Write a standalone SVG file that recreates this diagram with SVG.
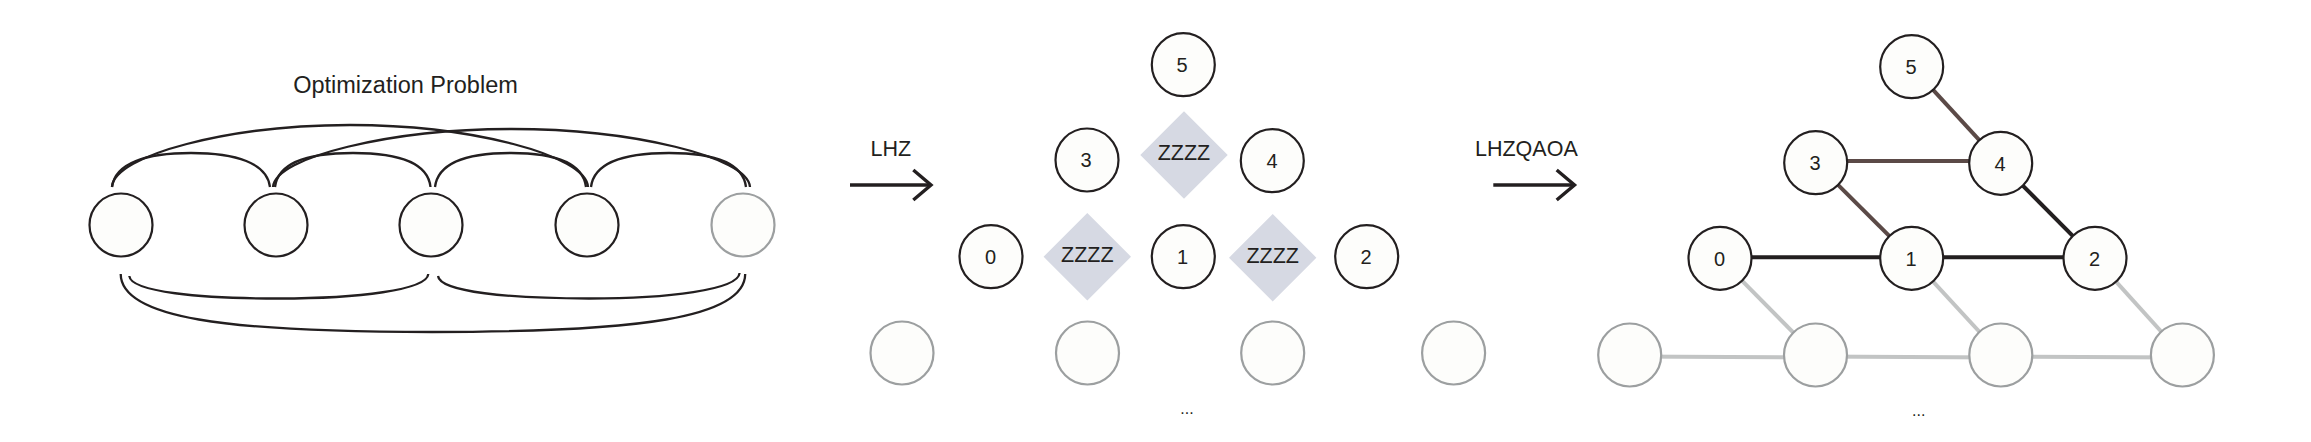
<svg xmlns="http://www.w3.org/2000/svg" width="2311" height="442" viewBox="0 0 2311 442">
<style>
  text { font-family: "Liberation Sans", Arial, sans-serif; fill: #231f20; }
  .lbl { font-size: 21.5px; }
  .num { font-size: 20px; text-anchor: middle; }
  .zz { font-size: 21.5px; text-anchor: middle; }
  .dots { font-size: 16px; text-anchor: middle; }
  .node { fill: #fdfdfb; stroke: #231f20; stroke-width: 2.2; }
  .ghost { fill: #fdfdfb; stroke: #9c9fa0; stroke-width: 2.2; }
  .arc { fill: none; stroke: #231f20; stroke-width: 2.3; }
  .arrow { fill: none; stroke: #231f20; stroke-width: 3.4; }
  .dia { fill: #d6d9e3; }
  .eb { stroke: #231f20; stroke-width: 4; }
  .ebr { stroke: #5b4a47; stroke-width: 4; }
  .eg { stroke: #c2c4c4; stroke-width: 4; }
</style>

<!-- Left panel: optimization problem -->
<text id="title" x="405.5" y="93" style="font-size:23.5px" text-anchor="middle">Optimization Problem</text>

<g id="connectors-left">
  <!-- adjacent top arcs -->
  <path class="arc" d="M112 187 C115 163 146 153 191 153 S267 163 270 187"/>
  <path class="arc" d="M275 187 C278 163 308 153 353 153 S428 163 430.5 187"/>
  <path class="arc" d="M435 187 C438 163 466 153 511 153 S583 163 586 187"/>
  <path class="arc" d="M591 187 C594 163 624 153 669 153 S743 163 746 187"/>
  <!-- long top arcs -->
  <path class="arc" d="M112 187 C114 155 230 125 350 125 S586 155 588 187"/>
  <path class="arc" d="M273 187 C275 157 391 129 511.5 129 S748 157 750 187"/>
  <!-- bottom arcs -->
  <path class="arc" d="M129.3 276 C131 292 200 298.5 279 298.5 S427 290 428.3 274"/>
  <path class="arc" d="M438 276 C440 292 510 298.5 589 298.5 S738 290 739.6 273"/>
  <path class="arc" d="M120.7 274 C121 318 225 332 432 332 S745 318 745.2 274"/>
</g>

<g id="p-n0"><circle class="node" cx="121" cy="225" r="31.5"/></g>
<g id="p-n1"><circle class="node" cx="276" cy="225" r="31.5"/></g>
<g id="p-n2"><circle class="node" cx="431" cy="225" r="31.5"/></g>
<g id="p-n3"><circle class="node" cx="587" cy="225" r="31.5"/></g>
<g id="p-n4"><circle class="ghost" cx="743" cy="225" r="31.5"/></g>

<!-- Arrow LHZ -->
<g id="arrow-lhz">
  <text class="lbl" x="870.5" y="155.7">LHZ</text>
  <line class="arrow" x1="850" y1="185" x2="930" y2="185"/>
  <polyline class="arrow" points="913.3,170 931,185 913.3,200"/>
</g>

<!-- Middle panel: LHZ layout -->
<g id="m-d0"><polygon class="dia" points="1184,111.3 1227.7,155 1184,198.7 1140.3,155"/><text class="zz" x="1184" y="160">ZZZZ</text></g>
<g id="m-d1"><polygon class="dia" points="1087.3,213 1131,256.7 1087.3,300.4 1043.6,256.7"/><text class="zz" x="1087.3" y="262">ZZZZ</text></g>
<g id="m-d2"><polygon class="dia" points="1272.7,214 1316.4,257.7 1272.7,301.4 1229,257.7"/><text class="zz" x="1272.7" y="263">ZZZZ</text></g>

<g id="m-n5"><circle class="node" cx="1183.3" cy="64.7" r="31.5"/><text class="num" x="1182" y="72">5</text></g>
<g id="m-n3"><circle class="node" cx="1087" cy="160" r="31.5"/><text class="num" x="1086" y="167">3</text></g>
<g id="m-n4"><circle class="node" cx="1272.3" cy="160.7" r="31.5"/><text class="num" x="1272" y="168">4</text></g>
<g id="m-n0"><circle class="node" cx="991" cy="256.7" r="31.5"/><text class="num" x="990.5" y="264">0</text></g>
<g id="m-n1"><circle class="node" cx="1183.3" cy="256.7" r="31.5"/><text class="num" x="1182.5" y="264">1</text></g>
<g id="m-n2"><circle class="node" cx="1366.7" cy="256.7" r="31.5"/><text class="num" x="1366" y="264">2</text></g>

<g id="m-g0"><circle class="ghost" cx="902" cy="353" r="31.5"/></g>
<g id="m-g1"><circle class="ghost" cx="1087.5" cy="353" r="31.5"/></g>
<g id="m-g2"><circle class="ghost" cx="1272.7" cy="353" r="31.5"/></g>
<g id="m-g3"><circle class="ghost" cx="1453.6" cy="353" r="31.5"/></g>
<text class="dots" x="1187" y="414">...</text>

<!-- Arrow LHZQAOA -->
<g id="arrow-qaoa">
  <text class="lbl" x="1475" y="156">LHZQAOA</text>
  <line class="arrow" x1="1493.3" y1="185" x2="1573.5" y2="185"/>
  <polyline class="arrow" points="1556.7,170 1574.5,185 1556.7,200"/>
</g>

<!-- Right panel: QAOA graph -->
<g id="connectors-right">
  <line class="eg" x1="1629.7" y1="356.5" x2="1815.5" y2="357.5"/>
  <line class="eg" x1="1815.5" y1="356.5" x2="2000.8" y2="357.5"/>
  <line class="eg" x1="2000.8" y1="356.5" x2="2182.4" y2="357.5"/>
  <line class="eg" x1="1720" y1="258.3" x2="1815.5" y2="355"/>
  <line class="eg" x1="1911.7" y1="258.3" x2="2000.8" y2="355"/>
  <line class="eg" x1="2095" y1="258.3" x2="2182.4" y2="355"/>
  <line class="eb" x1="1720" y1="257.3" x2="1911.7" y2="257.3"/>
  <line class="eb" x1="1911.7" y1="257.3" x2="2095" y2="257.3"/>
  <line class="eb" x1="2000.7" y1="163.3" x2="2095" y2="258.3"/>
  <line class="ebr" x1="1815.7" y1="162.7" x2="1911.7" y2="258.3"/>
  <line class="ebr" x1="1815.7" y1="161" x2="2000.7" y2="161"/>
  <line class="ebr" x1="1911.7" y1="66.7" x2="2000.7" y2="163.3"/>
</g>

<g id="r-g0"><circle class="ghost" cx="1629.7" cy="355" r="31.5"/></g>
<g id="r-g1"><circle class="ghost" cx="1815.5" cy="355" r="31.5"/></g>
<g id="r-g2"><circle class="ghost" cx="2000.8" cy="355" r="31.5"/></g>
<g id="r-g3"><circle class="ghost" cx="2182.4" cy="355" r="31.5"/></g>

<g id="r-n5"><circle class="node" cx="1911.7" cy="66.7" r="31.5"/><text class="num" x="1911" y="74">5</text></g>
<g id="r-n3"><circle class="node" cx="1815.7" cy="162.7" r="31.5"/><text class="num" x="1815" y="170">3</text></g>
<g id="r-n4"><circle class="node" cx="2000.7" cy="163.3" r="31.5"/><text class="num" x="2000" y="171">4</text></g>
<g id="r-n0"><circle class="node" cx="1720" cy="258.3" r="31.5"/><text class="num" x="1719.5" y="265.5">0</text></g>
<g id="r-n1"><circle class="node" cx="1911.7" cy="258.3" r="31.5"/><text class="num" x="1911" y="265.5">1</text></g>
<g id="r-n2"><circle class="node" cx="2095" cy="258.3" r="31.5"/><text class="num" x="2094.5" y="265.5">2</text></g>
<text class="dots" x="1918.7" y="415.5">...</text>
</svg>
